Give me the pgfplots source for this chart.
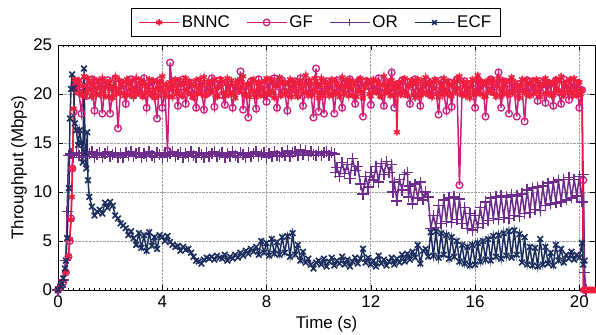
\documentclass[border=0pt]{standalone}
\usepackage{fontspec}
\setmainfont{Liberation Sans}
\usepackage{pgfplots}
\pgfplotsset{compat=1.18}
\definecolor{cB}{RGB}{238,30,60}
\definecolor{cG}{RGB}{204,30,122}
\definecolor{cO}{RGB}{110,44,140}
\definecolor{cE}{RGB}{28,46,94}
\pgfplotsset{
  bnnc/.style={color=cB, line width=1.5pt, mark=asterisk, mark size=3.5pt, mark options={solid, line width=1.5pt}},
  gf/.style={color=cG, line width=1.5pt, mark=o, mark size=3.4pt, mark options={solid, line width=1.3pt}},
  or/.style={color=cO, line width=1.5pt, mark=+, mark size=5.6pt, mark options={solid, line width=1.5pt}},
  ecf/.style={color=cE, line width=1.5pt, mark=x, mark size=4.0pt, mark options={solid, line width=1.6pt}},
}
\begin{document}
\fontsize{17}{20}\selectfont
\begin{tikzpicture}[font=\fontsize{17}{20}\selectfont]
\begin{axis}[
  width=537bp, height=245bp, scale only axis,
  xmin=0, xmax=20.6, ymin=0, ymax=25,
  xtick={0,4,...,20}, ytick={0,5,...,25},
  minor x tick num=19,
  tick align=inside,
  major tick length=5bp, minor tick length=1.8bp,
  xtick pos=both, ytick pos=both,
  grid=major,
  major grid style={densely dotted, gray!75, line width=0.7pt},
  axis line style={black, line width=0.9pt},
  every tick/.style={black, line width=0.6pt},
  /pgf/number format/assume math mode=true,
  xlabel={Time (s)}, ylabel={Throughput (Mbps)},
  xlabel style={yshift=3bp},
  ylabel style={yshift=-5bp},
  clip=false,
  legend columns=4,
  legend style={at={(0.48,1)}, anchor=south, yshift=8bp, draw=black, line width=0.8pt,
    inner xsep=7bp, inner ysep=5bp,
    /tikz/every even column/.append style={column sep=14bp},
    font=\fontsize{17}{20}\selectfont},
  legend image code/.code={\draw[mark repeat=2,mark phase=2,mark size=3.3pt] plot coordinates {(0bp,0bp)(20bp,0bp)(40bp,0bp)};},
]
\addlegendimage{bnnc}
\addlegendentry{BNNC}
\addlegendimage{gf}
\addlegendentry{GF}
\addlegendimage{or}
\addlegendentry{OR}
\addlegendimage{ecf}
\addlegendentry{ECF}

% GF
\addplot[gf, forget plot] coordinates {
(0,0)(0.1,0.3)(0.2,0.8)(0.3,1.8)(0.4,3.4)(0.45,5.0)(0.5,7.3)(0.55,12.4)(0.6,18.2)(0.65,20.6)
(0.7,21.0)(0.8,20.2)(0.9,18.0)(1.0,21.3)(1.1,19.8)(1.2,20.8)(1.3,21.5)(1.4,18.3)(1.5,20.4)(1.6,21.2)
(1.7,18.0)(1.8,20.9)(1.9,21.4)(2.0,18.0)(2.1,20.6)(2.2,21.6)(2.3,16.5)(2.4,20.3)(2.5,21.1)(2.6,19.0)
(2.7,20.7)(2.8,21.5)(2.9,19.9)(3.0,20.5)(3.1,21.3)(3.2,20.0)(3.3,21.6)(3.4,18.6)(3.5,20.8)(3.6,21.2)
(3.7,19.8)(3.8,17.5)(3.9,21.4)(4.0,18.6)(4.1,20.5)(4.2,14.2)(4.3,23.2)(4.4,20.1)(4.5,21.3)(4.6,18.8)
(4.7,20.7)(4.8,21.5)(4.9,19.0)(5.0,20.4)(5.1,21.1)(5.2,20.0)(5.3,18.6)(5.4,21.3)(5.5,20.6)(5.6,18.4)
(5.7,21.0)(5.8,20.2)(5.9,21.6)(6.0,18.7)(6.1,20.9)(6.2,21.4)(6.3,19.9)(6.4,18.9)(6.5,21.2)(6.6,20.5)
(6.7,18.6)(6.8,21.0)(6.9,20.3)(7.0,22.3)(7.1,18.4)(7.2,20.8)(7.3,17.6)(7.4,21.3)(7.5,20.1)(7.6,18.5)
(7.7,21.5)(7.8,20.4)(7.9,20.9)(8.0,19.2)(8.1,21.2)(8.2,20.0)(8.3,21.6)(8.4,18.6)(8.5,20.7)(8.6,21.4)
(8.7,20.2)(8.8,18.3)(8.9,21.1)(9.0,20.5)(9.1,21.3)(9.2,19.9)(9.3,21.6)(9.4,18.8)(9.5,20.6)(9.6,21.2)
(9.7,20.1)(9.8,17.6)(9.9,22.6)(10.0,18.2)(10.1,20.8)(10.2,18.0)(10.3,21.3)(10.4,20.4)(10.5,21.0)(10.6,18.0)
(10.7,21.4)(10.8,20.2)(10.9,18.6)(11.0,21.1)(11.1,20.6)(11.2,21.5)(11.3,20.0)(11.4,19.0)(11.5,21.2)(11.6,20.5)
(11.7,17.7)(11.8,21.3)(11.9,20.8)(12.0,18.9)(12.1,21.0)(12.2,20.3)(12.3,21.6)(12.4,20.1)(12.5,18.8)(12.6,21.2)
(12.7,20.6)(12.8,22.2)(12.9,18.6)(13.0,21.0)(13.1,20.4)(13.2,21.4)(13.3,20.0)(13.4,21.2)(13.5,19.0)(13.6,20.7)
(13.7,21.5)(13.8,20.3)(13.9,18.8)(14.0,21.1)(14.1,20.6)(14.2,21.3)(14.3,19.9)(14.4,21.0)(14.5,20.4)(14.6,17.9)
(14.7,21.4)(14.8,20.2)(14.9,18.3)(15.0,21.2)(15.1,18.7)(15.2,20.8)(15.3,21.5)(15.4,10.7)(15.5,20.5)(15.6,21.3)
(15.7,20.1)(15.8,21.0)(15.9,20.6)(16.0,18.6)(16.1,21.4)(16.2,20.3)(16.3,21.1)(16.4,17.7)(16.5,20.9)(16.6,21.5)
(16.7,20.2)(16.8,21.0)(16.9,22.2)(17.0,18.6)(17.1,21.3)(17.2,20.5)(17.3,18.0)(17.4,21.2)(17.5,20.4)(17.6,17.7)
(17.7,21.0)(17.8,20.7)(17.9,17.2)(18.0,21.4)(18.1,20.1)(18.2,21.2)(18.3,20.6)(18.4,19.3)(18.5,21.3)(18.6,20.4)
(18.7,19.1)(18.8,21.1)(18.9,20.5)(19.0,18.8)(19.1,21.4)(19.2,20.2)(19.3,19.0)(19.4,21.5)(19.5,20.6)(19.6,19.4)
(19.7,21.2)(19.8,20.3)(19.9,21.0)(20.0,18.6)(20.1,20.4)(20.15,11.2)(20.2,0)
};

% OR
\addplot[or, forget plot] coordinates {
(0,0)(0.1,0.3)(0.2,1.0)(0.3,3.0)(0.35,8.0)(0.4,13.7)
(0.5,13.9)(0.6,13.5)(0.7,14.0)(0.8,13.7)(0.9,13.5)(1.0,14.0)(1.1,13.6)(1.2,13.9)(1.3,14.1)(1.4,13.5)
(1.5,13.8)(1.6,14.0)(1.7,13.5)(1.8,13.9)(1.9,14.1)(2.0,13.6)(2.1,13.8)(2.2,14.0)(2.3,13.5)(2.4,13.9)
(2.5,13.5)(2.6,14.0)(2.7,13.7)(2.8,14.1)(2.9,13.6)(3.0,13.9)(3.1,14.0)(3.2,13.5)(3.3,13.9)(3.4,13.6)
(3.5,14.1)(3.6,13.7)(3.7,13.5)(3.8,14.0)(3.9,13.8)(4.0,13.5)(4.1,14.0)(4.2,13.6)(4.3,13.9)(4.4,14.1)
(4.5,13.6)(4.6,13.8)(4.7,14.0)(4.8,13.5)(4.9,13.9)(5.0,13.6)(5.1,14.1)(5.2,13.7)(5.3,13.5)(5.4,14.0)
(5.5,13.8)(5.6,13.5)(5.7,14.0)(5.8,13.6)(5.9,13.9)(6.0,14.1)(6.1,13.6)(6.2,13.8)(6.3,14.0)(6.4,13.5)
(6.5,13.9)(6.6,13.6)(6.7,14.1)(6.8,13.7)(6.9,13.5)(7.0,14.0)(7.1,13.8)(7.2,13.5)(7.3,14.0)(7.4,13.6)
(7.5,13.9)(7.6,14.1)(7.7,13.6)(7.8,13.8)(7.9,14.0)(8.0,13.5)(8.1,13.9)(8.2,13.6)(8.3,14.1)(8.4,13.7)
(8.5,13.6)(8.6,14.0)(8.7,13.7)(8.8,14.2)(8.9,13.6)(9.0,14.0)(9.1,14.1)(9.2,13.7)(9.3,14.3)(9.4,13.8)
(9.5,14.2)(9.6,13.7)(9.7,14.1)(9.8,13.8)(9.9,13.7)(10.0,14.1)(10.1,13.7)(10.2,14.0)(10.3,14.1)(10.4,13.7)
(10.5,14.0)(10.6,13.9)(10.65,12.0)(10.7,12.5)(10.8,11.6)(10.9,13.0)(11.0,11.9)(11.1,12.8)(11.2,11.4)(11.3,13.4)
(11.4,12.2)(11.5,12.6)(11.6,10.8)(11.7,9.8)(11.8,11.6)(11.9,10.5)(12.0,12.0)(12.1,11.2)(12.2,12.6)(12.3,11.0)
(12.4,12.9)(12.5,11.8)(12.6,13.1)(12.7,12.0)(12.8,12.8)(12.85,10.0)(12.9,11.0)(13.0,9.1)(13.1,11.3)(13.2,10.2)
(13.3,11.8)(13.4,12.0)(13.45,9.5)(13.5,10.6)(13.6,8.8)(13.7,10.8)(13.8,9.4)(13.9,11.0)(14.0,9.2)(14.1,10.0)
(14.2,9.5)(14.3,6.3)(14.4,7.6)(14.5,6.4)(14.6,8.6)(14.7,6.8)(14.8,9.2)(14.9,7.0)(15.0,9.4)(15.1,6.9)
(15.2,9.5)(15.3,7.2)(15.4,9.3)(15.5,6.8)(15.6,8.4)(15.7,6.3)(15.8,7.8)(15.9,6.1)(16.0,7.6)(16.1,6.4)
(16.2,8.4)(16.3,6.8)(16.4,9.0)(16.5,7.1)(16.6,9.4)(16.7,7.3)(16.8,9.5)(16.9,7.2)(17.0,9.6)(17.1,7.4)
(17.2,9.5)(17.3,7.3)(17.4,9.7)(17.5,7.6)(17.6,9.6)(17.7,7.5)(17.8,9.8)(17.9,7.8)(18.0,10.2)(18.1,7.9)
(18.2,10.4)(18.3,8.2)(18.4,10.5)(18.5,8.1)(18.6,10.6)(18.7,8.6)(18.8,10.9)(18.9,8.8)(19.0,11.0)(19.1,8.9)
(19.2,11.2)(19.3,9.0)(19.4,11.3)(19.5,9.2)(19.6,11.5)(19.7,9.4)(19.8,11.3)(19.9,9.6)(20.0,11.6)(20.1,9.0)
(20.15,11.8)(20.2,1.8)(20.25,0)
};

% BNNC
\addplot[bnnc, forget plot] coordinates {
(0,0)(0.1,0.3)(0.2,0.9)(0.3,1.8)(0.4,3.4)(0.45,5.2)(0.5,7.2)(0.53,9.5)(0.56,12.4)(0.6,18.5)(0.65,21.5)
(0.7,20.3)(0.75,21.0)(0.8,21.4)(0.85,20.1)(0.9,19.9)(0.95,20.8)(1.0,21.8)(1.05,19.8)(1.1,20.2)(1.15,21.6)
(1.2,21.1)(1.25,20.4)(1.3,19.7)(1.35,20.9)(1.4,21.5)(1.45,19.9)(1.5,20.6)(1.55,21.3)(1.6,20.0)(1.65,20.7)
(1.7,21.6)(1.75,20.3)(1.8,19.8)(1.85,21.2)(1.9,20.9)(1.95,19.7)(2.0,21.3)(2.05,20.5)(2.1,19.6)(2.15,20.8)
(2.2,21.7)(2.25,20.0)(2.3,20.4)(2.35,21.4)(2.4,20.1)(2.45,21.0)(2.5,21.2)(2.55,19.8)(2.6,19.9)(2.65,21.5)
(2.7,21.0)(2.75,19.9)(2.8,20.5)(2.85,21.3)(2.9,19.7)(2.95,20.6)(3.0,21.6)(3.05,20.1)(3.1,20.2)(3.15,21.1)
(3.2,21.4)(3.25,19.7)(3.3,19.8)(3.35,21.0)(3.4,20.8)(3.45,20.2)(3.5,21.5)(3.55,19.9)(3.6,20.0)(3.65,21.4)
(3.7,19.6)(3.75,20.5)(3.8,21.3)(3.85,19.8)(3.9,20.7)(3.95,21.2)(4.0,21.8)(4.05,20.3)(4.1,19.9)(4.15,21.0)
(4.2,20.6)(4.25,19.7)(4.3,21.2)(4.35,20.6)(4.4,19.7)(4.45,21.1)(4.5,21.5)(4.55,20.0)(4.6,20.3)(4.65,21.4)
(4.7,20.9)(4.75,19.8)(4.8,19.8)(4.85,21.0)(4.9,21.6)(4.95,20.4)(5.0,20.1)(5.05,21.3)(5.1,21.0)(5.15,19.7)
(5.2,19.6)(5.25,20.8)(5.3,21.4)(5.35,20.0)(5.4,20.5)(5.45,21.5)(5.5,20.0)(5.55,20.9)(5.6,21.7)(5.65,19.8)
(5.7,19.9)(5.75,21.2)(5.8,21.1)(5.85,20.2)(5.9,20.4)(5.95,21.3)(6.0,21.5)(6.05,19.9)(6.1,19.7)(6.15,20.7)
(6.2,20.8)(6.25,21.5)(6.3,21.3)(6.35,20.1)(6.4,19.8)(6.45,21.0)(6.5,21.6)(6.55,19.9)(6.6,20.2)(6.65,21.4)
(6.7,20.9)(6.75,20.0)(6.8,19.6)(6.85,21.1)(6.9,21.4)(6.95,20.3)(7.0,20.6)(7.05,21.2)(7.1,21.8)(7.15,20.0)
(7.2,19.9)(7.25,20.9)(7.3,21.0)(7.35,19.7)(7.4,20.3)(7.45,21.4)(7.5,21.5)(7.55,20.2)(7.6,19.7)(7.65,21.1)
(7.7,20.7)(7.75,19.9)(7.8,21.2)(7.85,20.4)(7.9,19.8)(7.95,21.3)(8.0,21.6)(8.05,20.0)(8.1,20.1)(8.15,21.5)
(8.2,21.3)(8.25,20.2)(8.3,19.6)(8.35,20.8)(8.4,20.9)(8.45,21.4)(8.5,21.7)(8.55,19.8)(8.6,20.0)(8.65,21.2)
(8.7,21.1)(8.75,20.3)(8.8,19.9)(8.85,21.0)(8.9,21.5)(8.95,19.7)(9.0,20.4)(9.05,21.3)(9.1,20.8)(9.15,20.0)
(9.2,19.7)(9.25,21.1)(9.3,21.4)(9.35,20.5)(9.4,20.2)(9.45,21.0)(9.5,21.9)(9.55,20.1)(9.6,19.8)(9.65,21.4)
(9.7,21.0)(9.75,19.9)(9.8,20.5)(9.85,21.6)(9.9,21.3)(9.95,20.2)(10.0,19.6)(10.05,20.9)(10.1,21.6)(10.15,19.8)
(10.2,20.1)(10.25,21.2)(10.3,20.9)(10.35,20.3)(10.4,19.8)(10.45,21.1)(10.5,21.5)(10.55,19.9)(10.6,20.3)(10.65,21.3)
(10.7,21.1)(10.75,20.0)(10.8,19.7)(10.85,20.8)(10.9,21.7)(10.95,20.4)(11.0,20.0)(11.05,21.4)(11.1,20.8)(11.15,19.8)
(11.2,21.4)(11.25,20.6)(11.3,19.9)(11.35,21.0)(11.4,21.2)(11.45,19.7)(11.5,20.4)(11.55,21.5)(11.6,21.6)(11.65,20.2)
(11.7,19.6)(11.75,20.9)(11.8,20.7)(11.85,21.4)(11.9,21.3)(11.95,20.0)(12.0,19.8)(12.05,21.1)(12.1,21.5)(12.15,20.3)
(12.2,20.2)(12.25,21.3)(12.3,21.0)(12.35,19.8)(12.4,19.7)(12.45,20.9)(12.5,21.8)(12.55,20.1)(12.6,20.6)(12.65,21.2)
(12.7,20.1)(12.75,19.8)(12.8,21.4)(12.85,20.7)(12.9,19.9)(12.95,21.0)(13.0,16.1)(13.05,20.6)(13.1,21.2)(13.15,19.9)
(13.2,20.3)(13.25,21.5)(13.3,21.6)(13.35,20.1)(13.4,19.8)(13.45,20.8)(13.5,20.9)(13.55,21.4)(13.6,21.3)(13.65,20.0)
(13.7,19.6)(13.75,21.0)(13.8,21.5)(13.85,19.8)(13.9,20.4)(13.95,21.3)(14.0,20.0)(14.05,20.9)(14.1,21.7)(14.15,20.2)
(14.2,19.9)(14.25,21.2)(14.3,21.1)(14.35,19.7)(14.4,20.5)(14.45,21.5)(14.5,21.4)(14.55,20.0)(14.6,19.7)(14.65,21.1)
(14.7,20.8)(14.75,19.9)(14.8,21.6)(14.85,20.4)(14.9,20.1)(14.95,21.3)(15.0,21.0)(15.05,19.8)(15.1,19.8)(15.15,20.9)
(15.2,21.3)(15.25,20.2)(15.3,20.6)(15.35,21.5)(15.4,21.8)(15.45,20.0)(15.5,19.9)(15.55,21.2)(15.6,20.7)(15.65,19.8)
(15.7,21.2)(15.75,20.4)(15.8,19.6)(15.85,21.0)(15.9,21.5)(15.95,19.9)(16.0,20.3)(16.05,21.4)(16.1,21.9)(16.15,20.1)
(16.2,20.0)(16.25,21.3)(16.3,20.9)(16.35,19.7)(16.4,19.8)(16.45,21.1)(16.5,21.4)(16.55,20.3)(16.6,20.2)(16.65,21.5)
(16.7,21.1)(16.75,20.0)(16.8,19.7)(16.85,20.8)(16.9,21.6)(16.95,19.9)(17.0,20.5)(17.05,21.3)(17.1,20.0)(17.15,21.0)
(17.2,21.3)(17.25,20.2)(17.3,19.9)(17.35,21.4)(17.4,21.7)(17.45,20.1)(17.5,20.4)(17.55,21.2)(17.6,20.8)(17.65,19.8)
(17.7,19.6)(17.75,20.9)(17.8,21.5)(17.85,20.3)(17.9,20.1)(17.95,21.4)(18.0,21.0)(18.05,19.9)(18.1,19.8)(18.15,21.1)
(18.2,21.4)(18.25,20.0)(18.3,20.6)(18.35,21.5)(18.4,21.2)(18.45,20.2)(18.5,19.7)(18.55,20.8)(18.6,20.9)(18.65,21.3)
(18.7,21.6)(18.75,20.1)(18.8,20.0)(18.85,21.2)(18.9,21.1)(18.95,19.8)(19.0,19.9)(19.05,21.0)(19.1,21.5)(19.15,20.4)
(19.2,20.3)(19.25,21.4)(19.3,21.8)(19.35,20.0)(19.4,19.8)(19.45,21.1)(19.5,20.7)(19.55,20.2)(19.6,21.3)(19.65,21.5)
(19.7,20.1)(19.75,19.8)(19.8,21.6)(19.85,20.5)(19.9,19.9)(19.95,21.2)(20.0,21.2)(20.05,20.0)(20.1,20.4)
(20.15,0)(20.2,0)(20.25,0)(20.3,0)(20.35,0)(20.4,0)(20.45,0)(20.5,0)(20.55,0)(20.6,0)
};

% ECF
\addplot[ecf, forget plot] coordinates {
(0,0)(0.1,0.4)(0.15,0.7)(0.2,1.2)(0.27,2.2)(0.3,3.0)(0.35,5.3)(0.42,10.4)(0.46,17.5)(0.5,20.5)
(0.54,22.0)(0.6,20.6)(0.65,17.0)(0.7,16.3)(0.77,14.8)(0.83,16.3)(0.9,15.0)(0.95,13.0)(1.0,22.6)(1.04,14.0)
(1.08,12.4)(1.12,16.1)(1.15,11.2)(1.2,9.5)(1.3,8.5)(1.4,7.6)(1.5,8.0)(1.6,8.2)(1.7,7.8)(1.8,8.9)
(1.9,8.4)(2.0,9.0)(2.1,8.6)(2.2,7.6)(2.3,7.3)(2.4,6.8)(2.5,6.6)(2.6,6.3)(2.7,5.6)(2.8,6.0)
(2.9,5.3)(3.0,4.6)(3.1,5.8)(3.2,4.3)(3.3,5.6)(3.4,4.0)(3.5,5.9)(3.6,4.5)(3.7,5.4)(3.8,4.2)
(3.9,5.6)(4.0,5.4)(4.1,5.0)(4.2,5.5)(4.3,4.9)(4.4,4.6)(4.5,4.4)(4.6,4.5)(4.7,4.0)(4.8,4.4)
(4.9,4.1)(5.0,4.2)(5.1,3.8)(5.2,3.4)(5.3,3.0)(5.4,2.9)(5.5,2.7)(5.6,3.1)(5.7,3.3)(5.8,3.2)
(5.9,3.4)(6.0,3.1)(6.1,3.5)(6.2,3.3)(6.3,3.2)(6.4,3.6)(6.5,3.0)(6.6,3.4)(6.7,3.2)(6.8,3.6)
(6.9,3.3)(7.0,3.8)(7.1,3.5)(7.2,4.0)(7.3,3.7)(7.4,4.2)(7.5,3.9)(7.6,4.4)(7.7,3.6)(7.8,5.0)
(7.9,3.8)(8.0,4.8)(8.1,3.5)(8.2,5.2)(8.3,3.7)(8.4,4.9)(8.5,3.6)(8.6,5.4)(8.7,3.8)(8.8,5.5)
(8.9,3.4)(9.0,5.8)(9.1,3.6)(9.2,4.6)(9.3,3.0)(9.4,3.9)(9.5,2.8)(9.6,3.2)(9.7,2.6)(9.8,2.2)
(9.9,2.8)(10.0,3.0)(10.1,2.6)(10.2,3.2)(10.3,2.4)(10.4,2.9)(10.5,3.3)(10.6,2.5)(10.7,3.0)(10.8,2.7)
(10.9,3.4)(11.0,2.6)(11.1,3.1)(11.2,2.4)(11.3,2.9)(11.4,3.3)(11.5,2.7)(11.6,3.2)(11.7,4.2)(11.8,2.8)
(11.9,3.3)(12.0,2.6)(12.1,3.0)(12.2,2.4)(12.3,3.5)(12.4,2.7)(12.5,3.1)(12.6,2.5)(12.7,2.9)(12.8,3.3)
(12.9,2.6)(13.0,3.2)(13.1,2.8)(13.2,3.6)(13.3,2.9)(13.4,3.7)(13.5,3.1)(13.6,3.9)(13.7,3.3)(13.8,4.6)
(13.9,2.7)(14.0,4.0)(14.1,4.2)(14.2,3.4)(14.3,5.9)(14.4,3.5)(14.5,6.0)(14.6,3.3)(14.7,5.8)(14.8,3.6)
(14.9,5.6)(15.0,3.2)(15.1,5.4)(15.2,3.4)(15.3,5.0)(15.4,2.9)(15.5,4.6)(15.6,2.7)(15.7,4.4)(15.8,2.5)
(15.9,4.6)(16.0,2.6)(16.1,4.8)(16.2,2.9)(16.3,5.0)(16.4,3.1)(16.5,5.2)(16.6,3.0)(16.7,5.5)(16.8,3.4)
(16.9,5.6)(17.0,3.2)(17.1,5.8)(17.2,3.5)(17.3,6.0)(17.4,3.3)(17.5,6.1)(17.6,3.6)(17.7,5.7)(17.8,2.8)
(17.9,5.4)(18.0,2.6)(18.1,4.4)(18.2,2.5)(18.3,4.3)(18.4,2.4)(18.5,5.2)(18.6,2.6)(18.7,4.4)(18.8,2.7)
(18.9,3.8)(19.0,2.5)(19.1,4.6)(19.2,3.0)(19.3,4.2)(19.4,2.8)(19.5,3.6)(19.6,3.2)(19.7,3.9)(19.8,3.1)
(19.9,3.6)(20.0,3.3)(20.1,4.8)(20.15,2.6)(20.2,3.0)
};
\end{axis}
\pgfresetboundingbox
\path[use as bounding box] ([xshift=-58bp,yshift=-45bp]current axis.south west)
  rectangle ([xshift=1bp,yshift=45bp]current axis.north east);
\end{tikzpicture}
\end{document}
